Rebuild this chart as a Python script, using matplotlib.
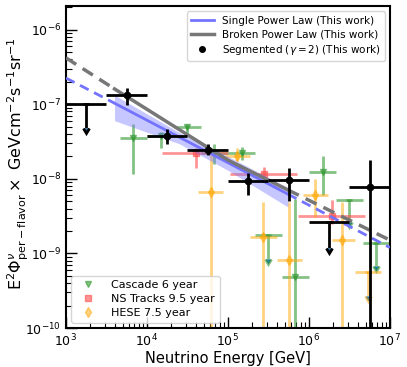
import numpy as np
import matplotlib

matplotlib.use("Agg")
import matplotlib.pyplot as plt

# segmented fit (gamma = 2), bins of half a decade
seg_e = [10**3.25, 10**3.75, 10**4.25, 10**4.75, 10**5.25, 10**5.75, 10**6.25, 10**6.75]
seg_e_lo = [1e3, 10**3.5, 1e4, 10**4.5, 1e5, 10**5.5, 1e6, 10**6.5]
seg_e_hi = [10**3.5, 1e4, 10**4.5, 1e5, 10**5.5, 1e6, 10**6.5, 1e7]
seg_f = [1.0e-7, 1.32e-7, 3.8e-8, 2.45e-8, 9.3e-9, 9.7e-9, 2.6e-9, 7.8e-9]
seg_f_up = [1.0e-7, 1.65e-7, 4.6e-8, 2.9e-8, 1.2e-8, 1.4e-8, 2.6e-9, 1.8e-8]
seg_f_dn = [4.8e-8, 0.98e-7, 2.9e-8, 2.1e-8, 6.0e-9, 5.0e-9, 1.2e-9, 1e-11]
seg_ul = [True, False, False, False, False, False, True, False]

# IceCube cascade 6 year
cas_e = [10**3.83, 10**4.17, 10**4.5, 10**4.83, 10**5.17, 10**5.5, 10**5.83, 10**6.17, 10**6.5, 10**6.83]
cas_e_lo = [10**3.67, 1e4, 10**4.33, 10**4.67, 1e5, 10**5.33, 10**5.67, 1e6, 10**6.33, 10**6.67]
cas_e_hi = [1e4, 10**4.33, 10**4.67, 1e5, 10**5.33, 10**5.67, 1e6, 10**6.33, 10**6.67, 1e7]
cas_f = [3.5e-8, 3.8e-8, 5.0e-8, 2.2e-8, 2.2e-8, 1.74e-9, 4.8e-10, 1.23e-8, 5.2e-9, 1.4e-9]
cas_f_up = [5.5e-8, 4.3e-8, 5.5e-8, 2.9e-8, 2.7e-8, 1.74e-9, 5.4e-9, 2.0e-8, 5.2e-9, 1.4e-9]
cas_f_dn = [1.17e-8, 2.55e-8, 4.1e-8, 1.6e-8, 1.8e-8, 8.3e-10, 1e-11, 6.0e-9, 2.6e-9, 6.7e-10]
cas_ul = [False, False, False, False, False, True, False, False, True, True]

# northern sky tracks 9.5 year
trk_e = [10**4.6, 10**5.44, 10**6.28]
trk_e_lo = [10**4.19, 10**5.02, 10**5.86]
trk_e_hi = [1e5, 10**5.85, 10**6.69]
trk_f = [2.2e-8, 1.17e-8, 3.2e-9]
trk_f_up = [2.6e-8, 1.45e-8, 5.2e-9]
trk_f_dn = [1.38e-8, 1.0e-8, 2.5e-9]

# HESE 7.5 year
hese_e = [10**4.79, 10**5.11, 10**5.43, 10**5.75, 10**6.07, 10**6.41, 10**6.73]
hese_e_lo = [10**4.63, 10**4.96, 10**5.27, 10**5.6, 10**5.93, 10**6.28, 10**6.57]
hese_e_hi = [10**4.94, 10**5.27, 10**5.6, 10**5.91, 10**6.23, 10**6.57, 10**6.89]
hese_f = [6.6e-9, 2.0e-8, 1.66e-9, 8.1e-10, 6.0e-9, 1.5e-9, 5.7e-10]
hese_f_up = [2.3e-8, 2.6e-8, 4.9e-9, 4.9e-9, 9.8e-9, 4.9e-9, 5.7e-10]
hese_f_dn = [1e-11, 1.74e-8, 1e-11, 1e-11, 3.1e-9, 1e-11, 2.7e-10]
hese_ul = [False, False, False, False, False, False, True]

# fitted models
spl_e = [1e3, 10**3.6, 10**5.74, 1e7]
spl_f = [2.24e-7, 1.03e-7, 6.24e-9, 1.2e-9]
band_e = [10**3.6, 10**4.4, 10**5.0, 10**5.74]
band_up = [1.32e-7, 4.17e-8, 2.0e-8, 7.6e-9]
band_dn = [6.0e-8, 2.95e-8, 1.3e-8, 4.2e-9]
bpl_e = [1e3, 10**3.6, 1e5, 10**5.74, 1e7]
bpl_f = [4.17e-7, 1.60e-7, 1.78e-8, 7.1e-9, 1.51e-9]

BLUE = "#7373ff"
GRAY = "#777777"
GREEN = (0.2, 0.6, 0.2, 0.6)
RED = (1.0, 0.3, 0.3, 0.6)
ORANGE = (1.0, 0.65, 0.0, 0.5)
DASH = (0, (3.5, 2.2))


def _plot_set(ax, e, lo, hi, f, up, dn, ul, color, marker, ms, z=2):
    for i in range(len(e)):
        xerr = [[e[i] - lo[i]], [hi[i] - e[i]]]
        if ul[i]:
            ax.errorbar(e[i], f[i], xerr=xerr, fmt="none", ecolor=color, elinewidth=2, capsize=0, zorder=z)
            ax.errorbar(e[i], f[i], yerr=[[f[i] - dn[i]], [0]], uplims=True, fmt="none",
                        ecolor=color, elinewidth=2, capsize=2.5, capthick=2, zorder=z)
        else:
            ax.errorbar(e[i], f[i], xerr=xerr, yerr=[[f[i] - dn[i]], [up[i] - f[i]]],
                        fmt=marker, color=color, ms=ms, elinewidth=2, capsize=0, zorder=z)


fig = plt.figure(figsize=(4.07, 3.67), dpi=100)
ax = fig.add_axes([0.162, 0.106, 0.796, 0.877])

_plot_set(ax, cas_e, cas_e_lo, cas_e_hi, cas_f, cas_f_up, cas_f_dn, cas_ul, GREEN, "v", 5)
_plot_set(ax, trk_e, trk_e_lo, trk_e_hi, trk_f, trk_f_up, trk_f_dn, [False] * 3, RED, "s", 4.5)
_plot_set(ax, hese_e, hese_e_lo, hese_e_hi, hese_f, hese_f_up, hese_f_dn, hese_ul, ORANGE, "d", 5)

ax.fill_between(band_e, band_dn, band_up, color=BLUE, alpha=0.4, lw=0, zorder=3)
ax.plot(spl_e[:2], spl_f[:2], color=BLUE, lw=2, ls=DASH, zorder=4)
ax.plot(spl_e[1:3], spl_f[1:3], color=BLUE, lw=2, zorder=4)
ax.plot(spl_e[2:], spl_f[2:], color=BLUE, lw=2, ls=DASH, zorder=4)
ax.plot(bpl_e[:2], bpl_f[:2], color=GRAY, lw=2.5, ls=DASH, zorder=4)
ax.plot(bpl_e[1:4], bpl_f[1:4], color=GRAY, lw=2.5, zorder=4)
ax.plot(bpl_e[3:], bpl_f[3:], color=GRAY, lw=2.5, ls=DASH, zorder=4)

_plot_set(ax, seg_e, seg_e_lo, seg_e_hi, seg_f, seg_f_up, seg_f_dn, seg_ul, "black", "o", 4.5, z=5)

ax.set_xscale("log")
ax.set_yscale("log")
ax.set_xlim(1e3, 1e7)
ax.set_ylim(1e-10, 2.05e-6)
ax.set_xlabel("Neutrino Energy [GeV]", fontsize=10.5, labelpad=1)
ax.set_ylabel(r"E$^2\Phi^{\nu}_{\rm per-flavor}\times$ GeVcm$^{-2}$s$^{-1}$sr$^{-1}$",
              fontsize=11.5)
ax.yaxis.set_label_coords(-0.108, 0.51)
ax.tick_params(which="both", direction="in", labelsize=9, top=False, right=False)
ax.tick_params(which="major", length=8, width=1)
ax.tick_params(which="minor", length=4, width=0.8)
for spine in ax.spines.values():
    spine.set_linewidth(1.5)

top_handles = [
    plt.Line2D([], [], color=BLUE, lw=2),
    plt.Line2D([], [], color=GRAY, lw=2.5),
    plt.Line2D([], [], color="black", marker="o", ls="none", ms=4),
]
top_labels = ["Single Power Law (This work)", "Broken Power Law (This work)",
              r"Segmented ($\gamma = 2$) (This work)"]
leg1 = ax.legend(top_handles, top_labels, loc="upper right", fontsize=7.5, handlelength=2.2,
                 borderaxespad=0.5, labelspacing=0.35)
ax.add_artist(leg1)

bottom_handles = [
    plt.Line2D([], [], color=GREEN, marker="v", ls="none", ms=5),
    plt.Line2D([], [], color=RED, marker="s", ls="none", ms=4.5),
    plt.Line2D([], [], color=ORANGE, marker="d", ls="none", ms=5),
]
bottom_labels = ["Cascade 6 year", "NS Tracks 9.5 year", "HESE 7.5 year"]
ax.legend(bottom_handles, bottom_labels, loc="lower left", fontsize=8, handlelength=2.2,
          handletextpad=1.0, borderaxespad=0.5, labelspacing=0.35)

fig.savefig("out.png", dpi=100)
